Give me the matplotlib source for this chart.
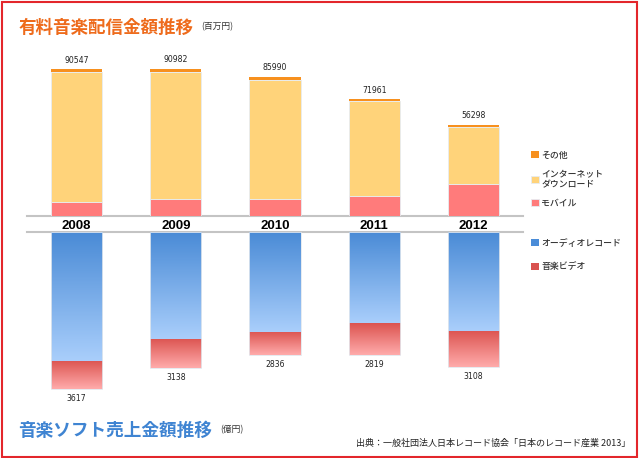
import numpy as np
import matplotlib
matplotlib.use('Agg')
import matplotlib.pyplot as plt
from matplotlib.patches import Rectangle
from matplotlib.colors import LinearSegmentedColormap

plt.rcParams['font.family'] = ['Noto Sans CJK JP', 'DejaVu Sans']

# データ
years = ['2008', '2009', '2010', '2011', '2012']

# 有料音楽配信（百万円）
mobile = [8600, 10300, 10300, 11900, 19800]
internet = [80147, 78882, 73990, 58961, 34898]
other = [1800, 1800, 1700, 1100, 1600]
haishin_total = [90547, 90982, 85990, 71961, 56298]

# 音楽ソフト（億円）
audio = [2959, 2460, 2290, 2086, 2277]
video = [658, 678, 546, 733, 831]
soft_total = [3617, 3138, 2836, 2819, 3108]

W, H = 640, 458
fig = plt.figure(figsize=(W / 100, H / 100), dpi=100)


def px_axes(left, top, right, bottom):
    return fig.add_axes([left / W, 1 - bottom / H, (right - left) / W, (bottom - top) / H])


x = np.arange(len(years))
bw = 0.515

# 上段：有料音楽配信
ax1 = px_axes(27, 54.2, 523, 215.7)
b_mob = ax1.bar(x, mobile, bw, color='#FF7B7B', edgecolor='#e6ecf2', linewidth=0.6, zorder=2)
b_int = ax1.bar(x, internet, bw, bottom=mobile, color='#FFD37A', edgecolor='#e6ecf2',
                linewidth=0.6, zorder=2)
bottom2 = [m + i for m, i in zip(mobile, internet)]
b_oth = ax1.bar(x, other, bw, bottom=bottom2, color='#F7901E', edgecolor='none', zorder=2)
ax1.bar_label(b_oth, labels=[str(v) for v in haishin_total], padding=3.5,
              fontsize=5.6, family='DejaVu Sans', color='#222222')
ax1.axhline(0, color='#c4c4c4', lw=1.5, zorder=1, clip_on=False)
ax1.set_xlim(-0.5, 4.5)
ax1.set_ylim(0, 100000)
ax1.set_yticks([])
ax1.set_xticks(x, years, fontfamily='Liberation Sans', fontweight='bold', fontsize=9.5)
ax1.tick_params(axis='x', length=0, pad=3)
for s in ax1.spines.values():
    s.set_visible(False)
ax1.patch.set_alpha(0)

# 下段：音楽ソフト
ax2 = px_axes(27, 232.3, 523, 405.9)
b_aud = ax2.bar(x, audio, bw, color='#4A8CD8', zorder=2)
b_vid = ax2.bar(x, video, bw, bottom=audio, color='#D9524F', zorder=2)

blue_cm = LinearSegmentedColormap.from_list('b', ['#4A8BD6', '#A9CEFB'])
red_cm = LinearSegmentedColormap.from_list('r', ['#DC5450', '#FFABAB'])
grad = np.linspace(0, 1, 100).reshape(-1, 1)
for cont, cm in ((b_aud, blue_cm), (b_vid, red_cm)):
    for r in cont:
        x0, y0, w, h = r.get_x(), r.get_y(), r.get_width(), r.get_height()
        im = ax2.imshow(grad, cmap=cm, aspect='auto', origin='upper',
                        extent=[x0, x0 + w, y0 + h, y0], zorder=3)
        im.set_clip_path(r)
ax2.bar(x, soft_total, bw, fill=False, edgecolor='#e2e8ee', linewidth=0.6, zorder=4)
ax2.bar_label(b_vid, labels=[str(v) for v in soft_total], padding=3.5,
              fontsize=5.6, family='DejaVu Sans', color='#222222')
ax2.axhline(0, color='#c4c4c4', lw=1.5, zorder=1, clip_on=False)
ax2.set_xlim(-0.5, 4.5)
ax2.set_ylim(4000, 0)
ax2.set_xticks([])
ax2.set_yticks([])
for s in ax2.spines.values():
    s.set_visible(False)
ax2.patch.set_alpha(0)

# 凡例
leg_kw = dict(loc='upper left', frameon=False, fontsize=6.4, handlelength=0.85,
              handleheight=0.85, handletextpad=0.3, borderpad=0, borderaxespad=0,
              labelcolor='#333333', prop={'weight': 'medium', 'size': 6.4})
fig.legend([b_oth, b_int, b_mob], ['その他', 'インターネット\nダウンロード', 'モバイル'],
           bbox_to_anchor=(531 / W, 1 - 151 / H), labelspacing=1.1, **leg_kw)
fig.legend([b_aud, b_vid], ['オーディオレコード', '音楽ビデオ'],
           bbox_to_anchor=(531 / W, 1 - 239 / H), labelspacing=1.6, **leg_kw)

# タイトル
fig.text(19 / W, 1 - 27.5 / H, '有料音楽配信金額推移', color='#EE6B1C', fontsize=12.6,
         fontweight='bold', ha='left', va='center')
fig.text(201 / W, 1 - 27 / H, '(百万円)', color='#333333', fontsize=6.3, ha='left', va='center')
fig.text(18 / W, 1 - 430.5 / H, '音楽ソフト売上金額推移', color='#3F84D2', fontsize=12.7,
         fontweight='bold', ha='left', va='center')
fig.text(220 / W, 1 - 430 / H, '(億円)', color='#333333', fontsize=6.3, ha='left', va='center')
fig.text(630 / W, 1 - 443.3 / H, '出典：一般社団法人日本レコード協会「日本のレコード産業 2013」',
         color='#222222', fontsize=6.5, ha='right', va='center')

# 枠線
fig.add_artist(Rectangle((1.5 / W, 1.5 / H), 635.5 / W, 455 / H, transform=fig.transFigure,
                         fill=False, edgecolor='#E3262B', lw=1.5))

fig.savefig('out.png', dpi=100)
